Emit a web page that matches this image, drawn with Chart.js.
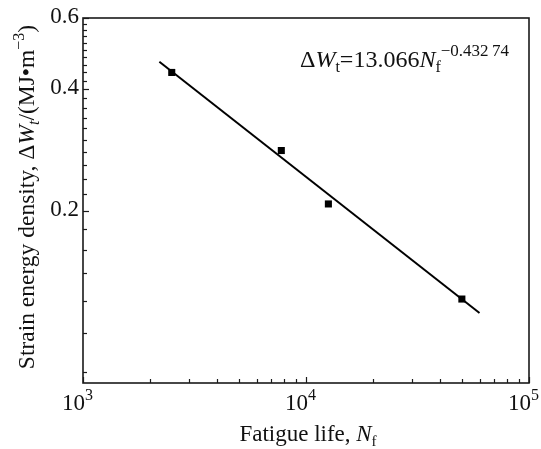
<!DOCTYPE html>
<html>
<head>
<meta charset="utf-8">
<script src="https://cdn.jsdelivr.net/npm/chart.js@4/dist/chart.umd.min.js"></script>
<style>
  html, body { margin: 0; padding: 0; background: #fff; }
  #wrap { width: 541px; height: 449px; }
</style>
</head>
<body>
<div id="wrap"><canvas id="myChart" width="541" height="449"></canvas></div>
<script>
// measured points
var fatigueLife = [2500, 7750, 12600, 50000];
var strainEnergy = [0.440, 0.282, 0.208, 0.121];

// power-law fit  dW = A * Nf^b
var fitCoef = 13.066;
var fitExp = -0.43274;
var fitRange = [2200, 60000];

// axis ticks
var xMajor = [1e3, 1e4, 1e5];
var xExp = ['3', '4', '5'];
var yLabels = [0.2, 0.4, 0.6];
var yMinor = [0.08, 0.1, 0.12, 0.14, 0.16, 0.18, 0.22, 0.24, 0.26, 0.28, 0.3, 0.32, 0.34, 0.36, 0.38,
              0.42, 0.44, 0.46, 0.48, 0.5, 0.52, 0.54, 0.56, 0.58];

var FONT = "'Liberation Serif', 'Times New Roman', serif";

var fitLine = fitRange.map(function (n) {
  return { x: n, y: fitCoef * Math.pow(n, fitExp) };
});

function xTickValues() {
  var out = [];
  for (var d = 1e3; d < 1e5; d *= 10) {
    for (var k = 1; k < 10; k++) out.push({ value: d * k, major: k === 1 });
  }
  out.push({ value: 1e5, major: true });
  return out;
}

function font(size, italic) {
  return (italic ? 'italic ' : '') + size + 'px ' + FONT;
}

// draw a row of text pieces (sub/superscripts, italics); align: 'left' | 'center'
function drawRuns(ctx, runs, x, y, align) {
  var total = 0;
  runs.forEach(function (r) {
    ctx.font = font(r.size, r.italic);
    r.w = ctx.measureText(r.t).width;
    total += r.w;
  });
  var cx = align === 'center' ? x - total / 2 : x;
  ctx.textBaseline = 'alphabetic';
  ctx.textAlign = 'left';
  runs.forEach(function (r) {
    ctx.font = font(r.size, r.italic);
    ctx.fillText(r.t, cx, y + (r.dy || 0));
    cx += r.w;
  });
}

var framePlugin = {
  id: 'frame',
  afterDraw: function (chart) {
    var ctx = chart.ctx;
    var a = chart.chartArea;
    var xs = chart.scales.x, ys = chart.scales.y;
    ctx.save();
    ctx.strokeStyle = '#1a1a1a';
    ctx.fillStyle = '#111';

    // box
    ctx.lineWidth = 1.6;
    ctx.strokeRect(a.left, a.top, a.right - a.left, a.bottom - a.top);

    // x ticks, pointing inward
    ctx.lineWidth = 1.2;
    xs.ticks.forEach(function (t) {
      var px = Math.round(xs.getPixelForValue(t.value)) + 0.5;
      var len = t.major ? 6 : 4;
      ctx.beginPath();
      ctx.moveTo(px, a.bottom);
      ctx.lineTo(px, a.bottom - len);
      ctx.stroke();
    });

    // y ticks
    ys.ticks.forEach(function (t) {
      var py = Math.round(ys.getPixelForValue(t.value)) + 0.5;
      var len = t.major ? 6 : 4;
      ctx.beginPath();
      ctx.moveTo(a.left, py);
      ctx.lineTo(a.left + len, py);
      ctx.stroke();
    });

    // y tick labels
    ctx.font = font(23, false);
    ctx.textAlign = 'right';
    ctx.textBaseline = 'middle';
    yLabels.forEach(function (v) {
      ctx.fillText(v.toFixed(1), a.left - 4, ys.getPixelForValue(v) - 1);
    });

    // x tick labels 10^n, the "10" ends at the tick
    ctx.font = font(23, false);
    var w10 = ctx.measureText('10').width;
    xMajor.forEach(function (v, i) {
      var px = xs.getPixelForValue(v);
      drawRuns(ctx, [
        { t: '10', size: 23 },
        { t: xExp[i], size: 16, dy: -10 }
      ], px - w10 + 2, 410, 'left');
    });

    // x axis title
    drawRuns(ctx, [
      { t: 'Fatigue life, ', size: 23 },
      { t: 'N', size: 23, italic: true },
      { t: 'f', size: 15, dy: 5 }
    ], 308, 441, 'center');

    // y axis title (rotated)
    ctx.save();
    ctx.translate(34, 197);
    ctx.rotate(-Math.PI / 2);
    drawRuns(ctx, [
      { t: 'Strain energy density, \u0394', size: 23.5 },
      { t: 'W', size: 23.5, italic: true },
      { t: 't', size: 16, italic: true, dy: 5 },
      { t: '/(MJ\u2022m', size: 23.5 },
      { t: '\u22123', size: 16, dy: -10 },
      { t: ')', size: 23.5 }
    ], 0, 0, 'center');
    ctx.restore();

    // fit equation
    drawRuns(ctx, [
      { t: '\u0394', size: 24 },
      { t: 'W', size: 24, italic: true },
      { t: 't', size: 16, dy: 5 },
      { t: '=13.066', size: 24 },
      { t: 'N', size: 24, italic: true },
      { t: 'f', size: 16, dy: 5 },
      { t: '\u22120.432\u200974', size: 17, dy: -11 }
    ], 300, 67, 'left');

    ctx.restore();
  }
};

new Chart('myChart', {
  type: 'scatter',
  data: {
    datasets: [{
      label: 'fit',
      type: 'line',
      data: fitLine,
      borderColor: '#000',
      borderWidth: 2,
      pointRadius: 0,
      fill: false,
      tension: 0
    }, {
      label: 'test',
      data: fatigueLife.map(function (n, i) { return { x: n, y: strainEnergy[i] }; }),
      pointStyle: 'rect',
      pointRadius: 5,
      backgroundColor: '#000',
      borderColor: '#000',
      borderWidth: 0
    }]
  },
  options: {
    responsive: false,
    animation: false,
    events: [],
    layout: { padding: { left: 0, right: 12, top: 18, bottom: 0 } },
    plugins: {
      legend: { display: false },
      title: { display: false },
      tooltip: { enabled: false }
    },
    scales: {
      x: {
        type: 'logarithmic',
        min: 1000,
        max: 100000,
        grid: { display: false },
        border: { display: false },
        ticks: { display: false },
        afterBuildTicks: function (s) { s.ticks = xTickValues(); },
        afterFit: function (s) { s.height = 66; }
      },
      y: {
        type: 'logarithmic',
        min: 0.075,
        max: 0.6,
        grid: { display: false },
        border: { display: false },
        ticks: { display: false },
        afterBuildTicks: function (s) {
          var t = yMinor.map(function (v) { return { value: v, major: false }; });
          yLabels.forEach(function (v) { t.push({ value: v, major: true }); });
          s.ticks = t;
        },
        afterFit: function (s) { s.width = 83; }
      }
    }
  },
  plugins: [framePlugin]
});
</script>
</body>
</html>
